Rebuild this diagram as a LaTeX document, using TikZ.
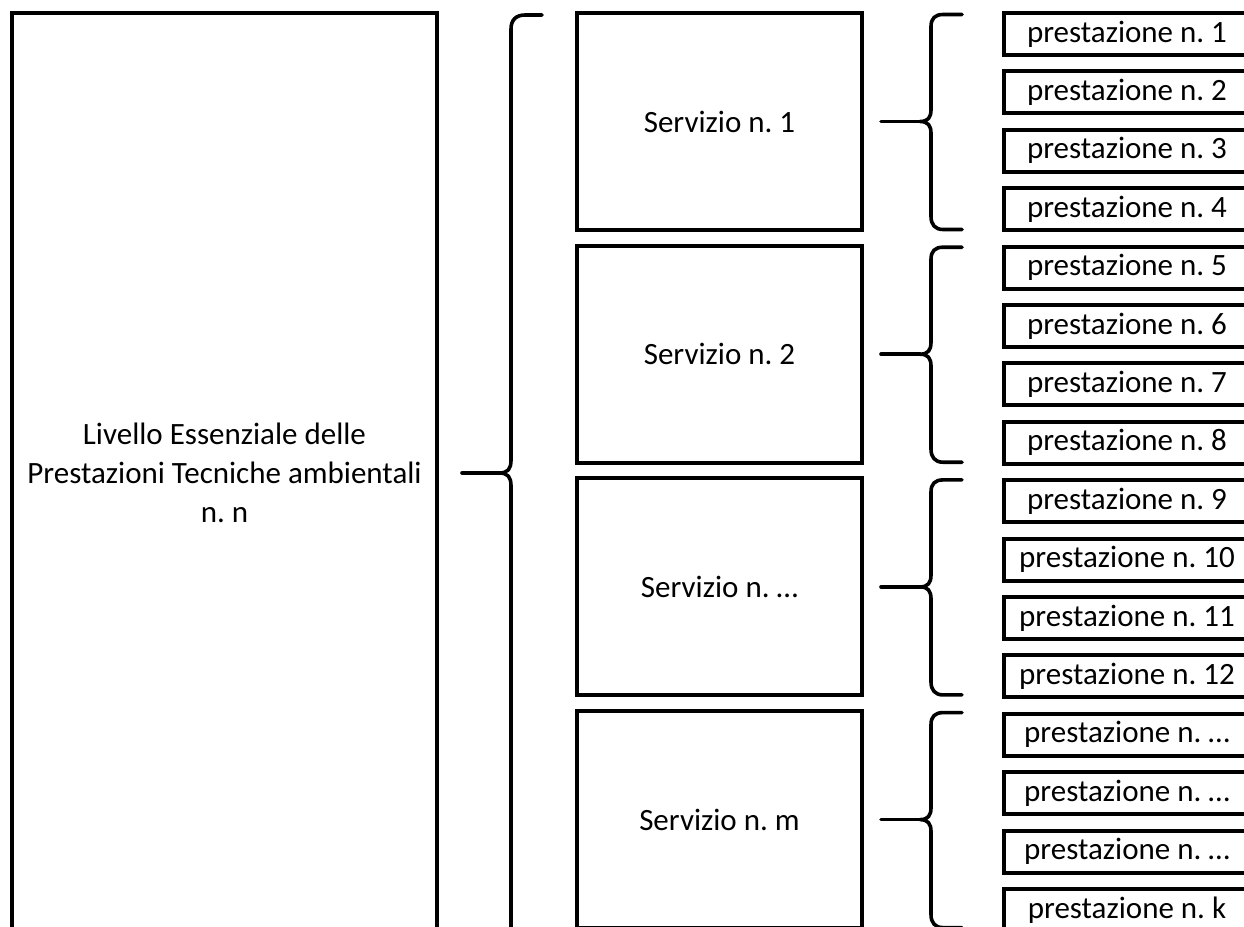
\documentclass[tikz,border=0pt]{standalone}
\usepackage{fontspec}
\setmainfont{Carlito}
\usepackage{tikz}
\usetikzlibrary{positioning}
\frenchspacing

\begin{document}
\begin{tikzpicture}
		[
			x=1pt, y=-1pt,
			align=center,
			font=\fontsize{31}{39}\selectfont,
			livello/.style={draw, line width=4pt, inner sep=0pt, minimum width=425pt, minimum height=920pt},
			servizio/.style={draw, line width=4pt, inner sep=0pt, minimum width=285pt, minimum height=217pt},
			prestazione/.style={draw, line width=4pt, inner sep=0pt, minimum width=246pt, minimum height=42pt},
			graffa/.style={line width=3.6pt, line cap=round, line join=round}
		]

		\useasboundingbox (0,0) rectangle (1244,926);
		\clip (0,0) rectangle (1244,926);

		% livello
		\node[livello] (len) at ( 224.5, 473.0 ) {Livello Essenziale delle\\Prestazioni Tecniche ambientali\\n. n};

		% servizi
		\node[servizio] (s1) at ( 719.5, 121.5 ) {Servizio n. 1};
		\node[servizio] (s2) at ( 719.5, 354.2 ) {Servizio n. 2};
		\node[servizio] (s3) at ( 719.5, 586.9 ) {Servizio n. …};
		\node[servizio] (s4) at ( 719.5, 819.6 ) {Servizio n. m};

		% prestazioni
		\foreach \i/\t in
		{
			1/1, 2/2, 3/3, 4/4,
			5/5, 6/6, 7/7, 8/8,
			9/9, 10/10, 11/11, 12/12,
			13/…, 14/…, 15/…, 16/k}
		\node[prestazione] (p\i) at ( 1127.0, {34+58.4*(\i-1)} ) {prestazione n. \t};

		% graffa grande
		\begin{scope}[shift={(len.east)}]
			\draw[graffa] (103,-458) -- (86,-458) .. controls (77,-458) and (72,-453) .. (72,-444)
				-- (72,-13) .. controls (72,-4) and (69,0) .. (60,0)
				.. controls (69,0) and (72,4) .. (72,13) -- (72,480);
			\draw[graffa] (len.east) ++(23,0) -- ++(37,0);
		\end{scope}

		% graffe piccole
		\foreach \s in {s1,s2,s3,s4}
		{
			\begin{scope}[shift={(\s.east)}]
				\draw[graffa] (98,-107) -- (79,-107) .. controls (71,-107) and (67,-103) .. (67,-95)
					-- (67,-12) .. controls (67,-4) and (64,0) .. (56,0)
					.. controls (64,0) and (67,4) .. (67,12)
					-- (67,95) .. controls (67,103) and (71,108) .. (79,108) -- (98,108);
				\draw[graffa] (\s.east) ++(17,0) -- ++(39,0);
			\end{scope}
		}

	\end{tikzpicture}
\end{document}
